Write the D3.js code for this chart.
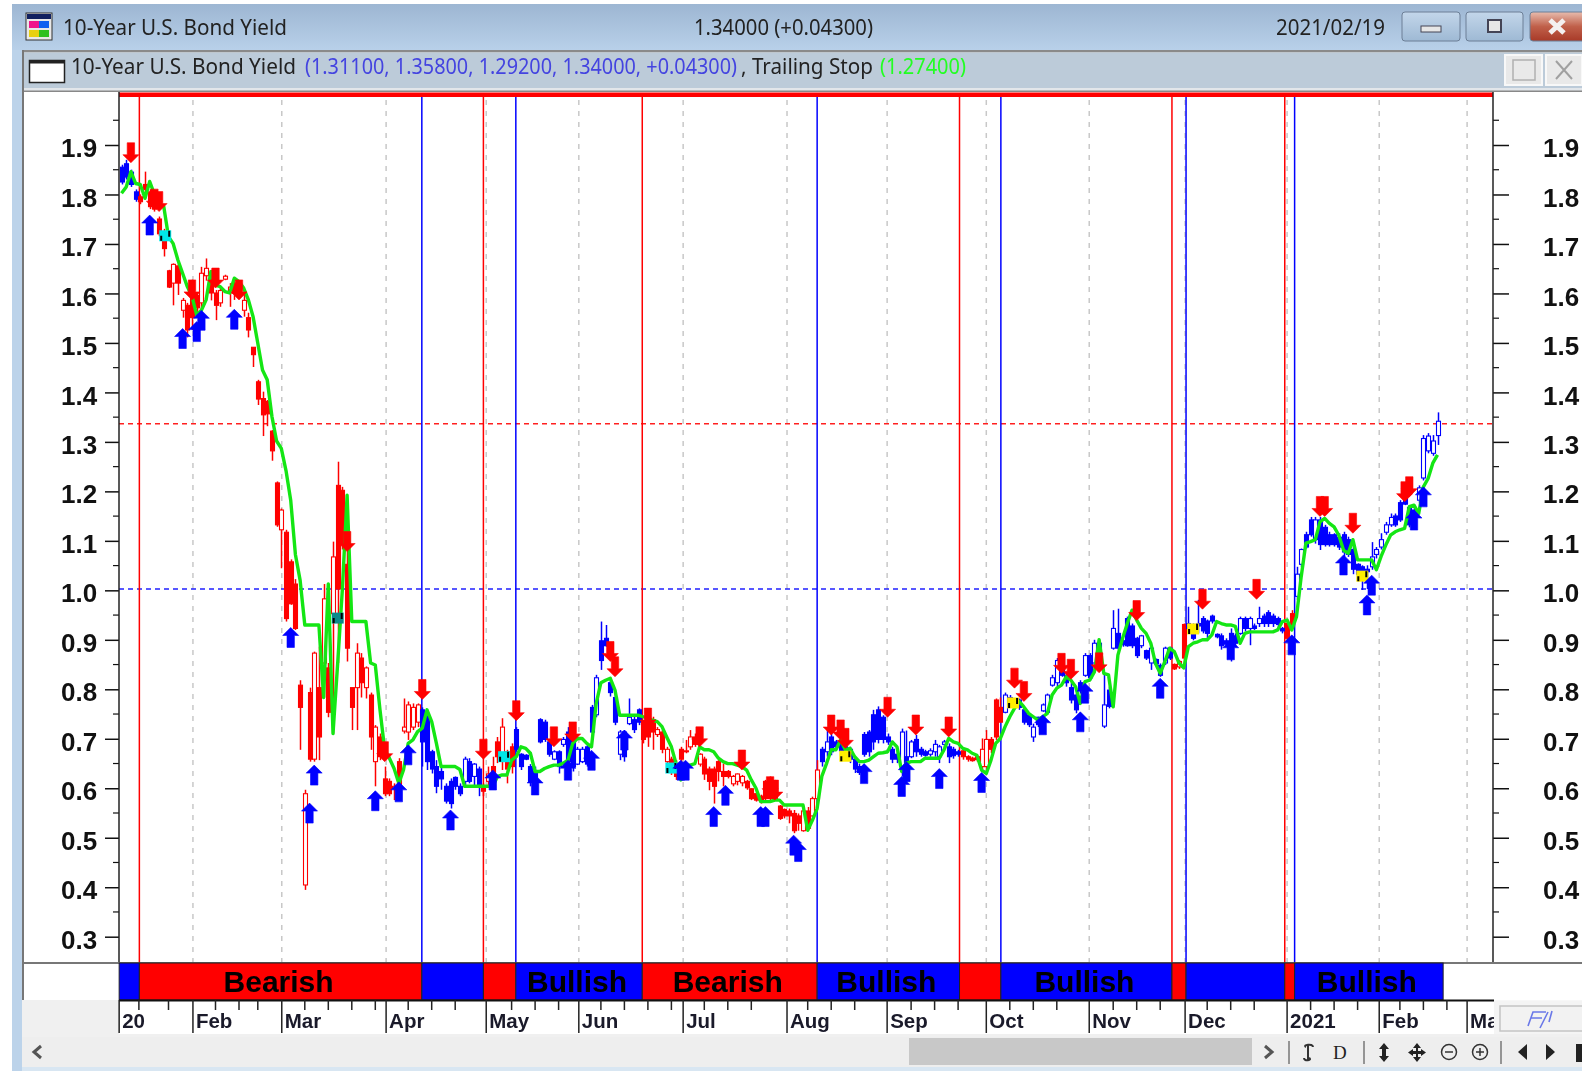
<!DOCTYPE html>
<html><head><meta charset="utf-8">
<script src="https://cdnjs.cloudflare.com/ajax/libs/d3/7.8.5/d3.min.js"></script>
<style>html,body{margin:0;padding:0;background:#fff;overflow:hidden}svg{display:block;filter:blur(.55px)}</style>
</head><body><svg id="c" width="1582" height="1071"></svg>
<script>
const highs=[1.86,1.87,1.85,1.81,1.80,1.846,1.81,1.805,1.755,1.73,
1.647,1.66,1.66,1.59,1.58,1.627,1.60,1.653,1.67,1.647,
1.606,1.613,1.637,1.62,1.623,1.623,1.60,1.56,1.49,1.424,
1.40,1.383,1.322,1.218,1.163,1.12,1.06,1.02,.815,.593,
.80,.873,.883,1.01,.85,1.096,1.258,1.207,1.113,.80,
.89,.87,.843,.79,.724,.707,.64,.616,.606,.657,
.778,.772,.768,.768,.76,.748,.674,.653,.637,.606,
.616,.62,.606,.66,.657,.647,.64,.606,.64,.66,
.70,.738,.674,.687,.72,.667,.665,.645,.64,.738,
.735,.694,.673,.673,.70,.72,.70,.68,.68,.687,
.765,.826,.934,.927,.815,.788,.714,.714,.778,.741,
.758,.734,.755,.741,.72,.714,.68,.66,.653,.68,
.694,.714,.707,.667,.66,.64,.64,.653,.646,.633,
.623,.626,.623,.613,.596,.586,.583,.613,.62,.613,
.562,.555,.555,.552,.545,.558,.558,.579,.653,.68,
.72,.708,.694,.69,.687,.68,.66,.646,.71,.714,
.755,.762,.744,.707,.68,.673,.717,.713,.694,.704,
.68,.674,.677,.694,.684,.694,.687,.68,.674,.674,
.663,.66,.663,.697,.714,.70,.778,.78,.79,.785,
.778,.778,.758,.748,.727,.741,.768,.788,.826,.86,
.866,.83,.81,.788,.815,.87,.87,.897,.897,.829,
.802,.957,.96,.897,.944,.93,.903,.907,.877,.884,
.859,.849,.883,.883,.849,.856,.93,.964,.93,.978,
.945,.938,.948,.91,.91,.90,.92,.91,.944,.944,
.944,.93,.964,.95,.957,.95,.944,.923,.937,.957,
1.045,1.082,1.116,1.146,1.146,1.146,1.13,1.116,1.113,1.113,
1.116,1.106,1.086,1.052,1.048,1.048,1.095,1.085,1.113,1.136,
1.153,1.153,1.18,1.187,1.17,1.166,1.21,1.312,1.316,1.312,1.358];
const lows=[1.82,1.83,1.815,1.785,1.78,1.80,1.77,1.765,1.715,1.674,
1.61,1.575,1.596,1.55,1.51,1.525,1.56,1.565,1.625,1.585,
1.545,1.572,1.626,1.572,1.586,1.59,1.552,1.51,1.45,1.373,
1.31,1.33,1.26,1.126,1.042,.934,.968,.917,.674,.39,
.65,.65,.653,.78,.74,.707,.85,1.08,.853,.714,
.714,.78,.778,.674,.60,.653,.58,.58,.572,.592,
.707,.694,.714,.72,.64,.633,.626,.586,.593,.565,
.555,.593,.58,.60,.606,.60,.58,.58,.60,.606,
.647,.633,.606,.626,.67,.633,.653,.60,.586,.687,
.69,.66,.653,.626,.68,.62,.63,.643,.647,.64,
.70,.74,.836,.883,.782,.724,.653,.65,.724,.708,
.724,.687,.68,.674,.70,.667,.647,.623,.613,.647,
.667,.674,.68,.64,.613,.592,.565,.61,.60,.616,
.60,.602,.60,.593,.572,.569,.565,.572,.572,.572,
.532,.535,.525,.505,.51,.508,.51,.538,.566,.64,
.66,.663,.674,.667,.654,.647,.627,.623,.66,.66,
.674,.687,.687,.684,.647,.647,.62,.62,.657,.66,
.66,.66,.66,.66,.647,.68,.647,.656,.66,.654,
.65,.65,.65,.633,.626,.667,.694,.73,.748,.768,
.758,.755,.725,.72,.69,.72,.751,.748,.802,.802,
.822,.802,.768,.748,.788,.822,.815,.842,.842,.718,
.758,.877,.877,.883,.883,.88,.86,.88,.856,.836,
.846,.822,.846,.856,.836,.838,.842,.91,.896,.91,
.91,.90,.93,.90,.877,.883,.853,.883,.907,.914,
.886,.917,.923,.923,.923,.923,.923,.91,.896,.923,
.978,1.045,1.082,1.106,1.092,1.079,1.086,1.086,1.086,1.079,
1.065,1.065,1.03,1.025,.998,1.0,1.039,1.062,1.08,1.11,
1.126,1.126,1.136,1.17,1.125,1.13,1.175,1.22,1.275,1.27,1.292];
const opens=[1.855,1.862,1.845,1.805,1.795,1.82,1.805,1.80,1.75,1.715,
1.645,1.62,1.655,1.565,1.575,1.62,1.595,1.58,1.635,1.64,
1.60,1.58,1.628,1.60,1.62,1.62,1.565,1.55,1.49,1.42,
1.386,1.38,1.32,1.215,1.12,1.115,1.055,1.01,.805,.40,
.79,.655,.80,.85,.84,.95,1.21,1.20,1.05,.80,
.80,.86,.80,.785,.65,.70,.615,.61,.595,.65,
.712,.71,.72,.73,.755,.74,.67,.64,.63,.60,
.61,.618,.60,.61,.65,.62,.635,.60,.61,.64,
.69,.66,.67,.68,.715,.665,.663,.64,.63,.735,
.73,.69,.655,.67,.685,.71,.695,.645,.65,.68,
.76,.745,.895,.90,.81,.78,.665,.71,.727,.735,
.755,.73,.73,.735,.705,.71,.65,.655,.645,.675,
.67,.68,.70,.645,.655,.635,.635,.65,.63,.63,
.605,.61,.607,.61,.595,.585,.58,.61,.615,.61,
.56,.553,.55,.545,.54,.51,.55,.54,.575,.675,
.67,.70,.69,.685,.68,.675,.655,.64,.705,.71,
.745,.755,.74,.70,.675,.665,.64,.66,.66,.695,
.675,.67,.665,.67,.66,.685,.68,.675,.67,.672,
.66,.657,.66,.64,.64,.695,.775,.76,.75,.78,
.775,.775,.755,.745,.70,.74,.753,.75,.805,.81,
.862,.825,.80,.785,.81,.825,.865,.85,.89,.722,
.795,.88,.91,.895,.94,.925,.90,.885,.875,.85,
.857,.845,.85,.88,.847,.842,.928,.93,.925,.93,
.94,.935,.945,.908,.905,.895,.91,.905,.91,.94,
.92,.925,.93,.945,.952,.945,.94,.92,.93,.95,
.985,1.05,1.11,1.14,1.10,1.14,1.125,1.11,1.11,1.105,
1.11,1.10,1.08,1.05,1.045,1.04,1.045,1.07,1.085,1.115,
1.13,1.148,1.175,1.185,1.165,1.16,1.18,1.225,1.28,1.275,1.311];
const closes=[1.825,1.835,1.82,1.79,1.785,1.81,1.775,1.77,1.72,1.69,
1.612,1.658,1.62,1.585,1.525,1.55,1.57,1.64,1.65,1.60,
1.575,1.605,1.634,1.612,1.60,1.595,1.585,1.525,1.475,1.385,
1.353,1.355,1.28,1.13,1.16,.94,.97,.92,.76,.585,
.655,.87,.70,.98,.75,1.065,1.0,1.09,.88,.76,
.87,.81,.84,.70,.72,.66,.585,.585,.60,.60,
.72,.765,.76,.765,.69,.65,.635,.60,.615,.57,
.565,.60,.585,.655,.61,.645,.60,.59,.625,.62,
.66,.72,.635,.64,.675,.64,.655,.61,.60,.69,
.695,.665,.67,.64,.695,.65,.64,.675,.675,.645,
.71,.82,.855,.885,.79,.73,.71,.66,.74,.715,
.73,.695,.70,.71,.715,.675,.675,.63,.62,.655,
.672,.70,.685,.665,.625,.61,.60,.63,.62,.62,
.62,.625,.62,.597,.575,.572,.57,.575,.575,.575,
.535,.54,.54,.51,.525,.55,.515,.575,.633,.65,
.69,.67,.68,.672,.66,.655,.635,.628,.665,.67,
.69,.695,.695,.69,.655,.655,.71,.64,.69,.67,
.665,.663,.672,.685,.68,.69,.66,.662,.665,.66,
.655,.652,.654,.675,.695,.675,.70,.73,.785,.77,
.762,.76,.73,.725,.72,.725,.765,.785,.82,.855,
.825,.81,.775,.755,.795,.865,.82,.89,.85,.765,
.762,.92,.88,.887,.885,.885,.865,.905,.86,.88,
.848,.825,.88,.86,.838,.853,.86,.92,.90,.925,
.915,.91,.935,.903,.885,.888,.875,.89,.94,.92,
.94,.92,.94,.93,.93,.93,.928,.915,.90,.925,
1.03,1.08,1.085,1.11,1.14,1.09,1.09,1.09,1.09,1.085,
1.075,1.07,1.04,1.03,1.03,1.035,1.065,1.08,1.10,1.13,
1.145,1.13,1.14,1.172,1.13,1.135,1.205,1.305,1.31,1.30,1.34];
const trailingStop=[1.802,1.815,1.846,1.822,1.82,1.792,1.826,1.80,1.78,1.775,
1.714,1.70,1.667,1.64,1.613,1.593,1.555,1.565,1.586,1.643,
1.616,1.613,1.603,1.60,1.63,1.623,1.61,1.586,1.552,1.498,
1.444,1.424,1.35,1.30,1.285,1.24,1.18,1.07,1.018,.927,
.927,.927,.927,.78,1.01,.707,.85,1.0,1.19,.934,
.934,.934,.934,.85,.846,.755,.674,.657,.636,.606,
.633,.687,.694,.711,.718,.755,.731,.687,.64,.64,
.64,.64,.634,.60,.60,.60,.60,.60,.60,.60,
.62,.623,.623,.653,.66,.68,.677,.667,.63,.63,
.636,.64,.643,.643,.647,.653,.687,.697,.697,.687,
.68,.768,.81,.815,.819,.795,.744,.744,.744,.744,
.744,.741,.738,.734,.731,.721,.70,.68,.646,.613,
.643,.643,.646,.68,.674,.674,.67,.657,.65,.646,
.646,.643,.64,.633,.613,.596,.569,.569,.569,.572,
.572,.562,.562,.562,.562,.562,.511,.531,.555,.62,
.646,.674,.674,.694,.674,.677,.66,.65,.65,.653,
.66,.667,.668,.67,.69,.68,.63,.647,.65,.65,
.65,.657,.657,.657,.657,.674,.697,.69,.687,.677,
.674,.667,.663,.633,.626,.653,.687,.697,.721,.741,
.758,.772,.761,.748,.741,.734,.741,.748,.785,.799,
.805,.822,.815,.802,.768,.812,.815,.832,.897,.829,
.826,.761,.866,.90,.93,.957,.937,.92,.91,.89,
.849,.829,.853,.88,.873,.85,.84,.883,.89,.893,
.897,.897,.907,.934,.93,.927,.927,.924,.89,.91,
.913,.913,.913,.913,.913,.913,.917,.934,.937,.917,
.944,1.025,1.093,1.096,1.10,1.136,1.143,1.133,1.126,1.109,
1.079,1.072,1.10,1.059,1.059,1.059,1.059,1.039,1.066,1.089,
1.109,1.116,1.12,1.123,1.167,1.17,1.153,1.207,1.224,1.255,1.272];
const sellArrows=[[2,1.864],[7,1.77],[8,1.765],[15,1.586],[20,1.61],[25,1.586],[48,1.076],[56,.65],[64,.776],[77,.655],[84,.733],[92,.68],[96,.69],[104,.853],[105,.822],[112,.718],[123,.68],[132,.633],[138,.579],[139,.572],[151,.704],[153,.694],[154,.677],[163,.74],[169,.704],[176,.70],[190,.799],[192,.772],[200,.829],[202,.817],[208,.83],[216,.936],[230,.959],[241.5,.979],[255,1.147],[256,1.147],[262,1.113],[273,1.177],[274,1.187]];
const buyArrows=[[6,1.758],[13,1.528],[16,1.542],[17,1.565],[24,1.567],[36,.922],[40,.566],[41,.643],[54,.591],[59,.609],[61,.684],[70,.552],[79,.633],[88,.623],[95,.653],[100,.673],[107,.714],[119,.653],[120,.653],[126,.559],[128.5,.602],[136,.559],[137,.559],[143,.501],[144,.488],[158,.646],[166,.62],[167,.65],[174,.636],[183,.628],[196,.745],[204,.751],[205,.809],[221,.819],[236,.897],[249,.907],[260,1.069],[265,.988],[266,1.028],[275,1.16],[277,1.207]];
const flagBoxes=[[9.3,1.716,"#00e8e8"],[46,.941,"#0a8a8a"],[81.4,.66,"#00e8e8"],[117,.637,"#00e8e8"],[154,.661,"#ffee00"],[189.7,.769,"#ffee00"],[228,.919,"#ffee00"],[264,1.026,"#ffee00"]];
const regimeStarts=[-.5,3.8,63.9,77,83.9,110.8,148.01,178.3,187.1,223.5,226.5,247.5,249.6];
const regimeEnd=281.2;
const regimeLabels=["","Bearish","","","Bullish","Bearish","Bullish","","Bullish","","","","Bullish"];
const monthTicks=[[-.5,"20"],[15.2,"Feb"],[34.1,"Mar"],[56.3,"Apr"],[77.6,"May"],[97.3,"Jun"],[119.5,"Jul"],[141.6,"Aug"],[162.9,"Sep"],[184,"Oct"],[205.9,"Nov"],[226.3,"Dec"],[248,"2021"],[267.6,"Feb"],[286.3,"Mar"]];
const weekTicks=[3.7,10,20,25,29,39,44,49,54,61,66,71,83,88,93,102,107,112,117,124,129,134,146,151,156,168,173,178,189,194,199,211,216,221,231,236,241,253,258,263,272,277,282];
const yTicks=[.3,.4,.5,.6,.7,.8,.9,1,1.1,1.2,1.3,1.4,1.5,1.6,1.7,1.8,1.9];
const yMinor=[.35,.45,.55,.65,.75,.85,.95,1.05,1.15,1.25,1.35,1.45,1.55,1.65,1.75,1.85,1.95];
const refLines=[[1.335,"#ff2020"],[1,"#2020ff"]];

const svg=d3.select("#c");
const x=d3.scaleLinear().domain([0,280]).range([121.5,1437.5]);
const y=d3.scaleLinear().domain([.3,1.9]).range([934.3,145]);
const yAxis=d3.scaleLinear().domain([.3,1.9]).range([936.7,145]);
const L=119,R=1493,BT=963,BB=1000;
const BLUE="#0000ff",RED="#ff0000";
const regimeAt=i=>{let k=0;regimeStarts.forEach((s,n)=>{if(i>=s)k=n});return k%2==0?BLUE:RED};
const defs=svg.append("defs");
function grad(id,stops){const g=defs.append("linearGradient").attr("id",id).attr("x1",0).attr("x2",0).attr("y1",0).attr("y2",1);stops.forEach(([o,c])=>g.append("stop").attr("offset",o).attr("stop-color",c))}
grad("tb",[[0,"#9db6d2"],[1,"#b9d1ea"]]);grad("cl",[[0,"#e8bcae"],[.5,"#c0604a"],[1,"#a83a28"]]);grad("bt",[[0,"#c3d6ea"],[1,"#9eb9d4"]]);

// window chrome
const chrome=svg.append("g");
chrome.append("rect").attr("x",12).attr("y",4).attr("width",1570).attr("height",47).attr("fill","url(#tb)");
chrome.append("rect").attr("x",12).attr("y",50).attr("width",10).attr("height",1021).attr("fill","#bcd3ea");
chrome.append("rect").attr("x",22).attr("y",50).attr("width",1560).attr("height",2.5).attr("fill","#8a8a8a");
chrome.append("rect").attr("x",22).attr("y",52.5).attr("width",1560).attr("height",36).attr("fill","#bccbd9");
chrome.append("rect").attr("x",22).attr("y",88).attr("width",1560).attr("height",3).attr("fill","#e2e6ea");
chrome.append("rect").attr("x",22).attr("y",91).attr("width",1560).attr("height",909).attr("fill","#fff");
chrome.append("rect").attr("x",22).attr("y",90.5).attr("width",1560).attr("height",1.5).attr("fill","#888");
chrome.append("rect").attr("x",22).attr("y",50).attr("width",2).attr("height",950).attr("fill","#777");
// title icon
const ic=chrome.append("g");
ic.append("rect").attr("x",26).attr("y",13).attr("width",26).attr("height",27).attr("fill","#e8e8e8").attr("stroke","#333");
ic.append("rect").attr("x",27).attr("y",14).attr("width",24).attr("height",5).attr("fill","#102060");
ic.append("rect").attr("x",29).attr("y",21).attr("width",10).attr("height",7).attr("fill","#f0148c");
ic.append("rect").attr("x",39).attr("y",21).attr("width",10).attr("height",7).attr("fill","#1060f0");
ic.append("rect").attr("x",29).attr("y",30).attr("width",10).attr("height",7).attr("fill","#e8d010");
ic.append("rect").attr("x",39).attr("y",30).attr("width",10).attr("height",7).attr("fill","#30c020");
chrome.append("rect").attr("x",29.5).attr("y",60.5).attr("width",35).attr("height",22).attr("fill","#fff").attr("stroke","#222").attr("stroke-width",1.5);
chrome.append("rect").attr("x",29.5).attr("y",60.5).attr("width",35).attr("height",3).attr("fill","#222");
const ttl=(t,xx,yy,w,c)=>svg.append("text").text(t).attr("x",xx).attr("y",yy).attr("textLength",w).attr("lengthAdjust","spacingAndGlyphs").attr("fill",c).attr("font-family","'Noto Sans'").attr("font-size",21);
ttl("10-Year U.S. Bond Yield",63,35,224,"#222");
ttl("1.34000 (+0.04300)",694,35,179,"#222");
ttl("2021/02/19",1276,35,109,"#222");
ttl("10-Year U.S. Bond Yield",71,74,225,"#222");
ttl("(1.31100, 1.35800, 1.29200, 1.34000, +0.04300)",305,74,432,"#4444e0");
ttl(", Trailing Stop",741,74,132,"#222");
ttl("(1.27400)",880,74,86,"#22ff22");
// window buttons
[[1402,58,"url(#bt)"],[1466,57,"url(#bt)"],[1530,56,"url(#cl)"]].forEach(([bx,w,f])=>chrome.append("rect").attr("x",bx).attr("y",12).attr("width",w).attr("height",29).attr("rx",3).attr("fill",f).attr("stroke","#6c7f96"));
chrome.append("rect").attr("x",1421).attr("y",26).attr("width",20).attr("height",6).attr("fill","#e6e6e6").attr("stroke","#445");
chrome.append("rect").attr("x",1488).attr("y",20).attr("width",13).attr("height",12).attr("fill","#e6e6e6").attr("stroke","#445").attr("stroke-width",2);
chrome.append("path").attr("d","M1550 20L1564 33M1564 20L1550 33").attr("stroke","#f4f0f0").attr("stroke-width",5);
[[1505,37],[1546,36]].forEach(([bx,w])=>chrome.append("rect").attr("x",bx).attr("y",55).attr("width",w).attr("height",30).attr("fill","#e9e9e9").attr("stroke","#f8f8f8").attr("stroke-width",2));
chrome.append("rect").attr("x",1513).attr("y",60).attr("width",22).attr("height",20).attr("fill","none").attr("stroke","#b0b0b0").attr("stroke-width",1.5);
chrome.append("path").attr("d","M1556 61L1572 79M1572 61L1556 79").attr("stroke","#a0a0a0").attr("stroke-width",2);

// month grid
const plot=svg.append("g");
plot.selectAll("line.g").data(monthTicks.slice(1)).join("line").attr("x1",d=>x(d[0])).attr("x2",d=>x(d[0])).attr("y1",100).attr("y2",BT).attr("stroke","#c8c8c8").attr("stroke-width",1.5).attr("stroke-dasharray","5,6");
// reference lines
plot.selectAll("line.r").data(refLines).join("line").attr("x1",L).attr("x2",R).attr("y1",d=>y(d[0])).attr("y2",d=>y(d[0])).attr("stroke",d=>d[1]).attr("stroke-width",1.5).attr("stroke-dasharray","5,4");
// regime verticals
plot.selectAll("line.v").data(regimeStarts.slice(1)).join("line").attr("x1",d=>x(d)).attr("x2",d=>x(d)).attr("y1",93).attr("y2",BT).attr("stroke",d=>regimeAt(d)).attr("stroke-width",1.5);
plot.append("rect").attr("x",L).attr("y",92.5).attr("width",R-L).attr("height",4.5).attr("fill",RED);

// axes
const axL=d3.axisLeft(yAxis).tickValues(yTicks).tickSize(14).tickFormat(d3.format(".1f"));
const gL=svg.append("g").attr("transform",`translate(${L},0)`).call(axL);
const axR=d3.axisRight(yAxis).tickValues(yTicks).tickSize(16).tickFormat(d3.format(".1f"));
const gR=svg.append("g").attr("transform",`translate(${R},0)`).call(axR);
[gL,gR].forEach(g=>{g.select(".domain").remove();g.selectAll("line").attr("stroke","#111").attr("stroke-width",1.5);
 g.selectAll("text").attr("font-family","'Liberation Sans'").attr("font-weight","bold").attr("font-size",26).attr("fill","#111").attr("dy",11.6)});
gL.selectAll("text").attr("text-anchor","start").attr("x",61-L);
gR.selectAll("text").attr("text-anchor","start").attr("x",1543-R);
svg.append("g").selectAll("line").data(yMinor).join("line").attr("x1",L-6).attr("x2",L).attr("y1",d=>yAxis(d)).attr("y2",d=>yAxis(d)).attr("stroke","#111").attr("stroke-width",1.2);
svg.append("g").selectAll("line").data(yMinor).join("line").attr("x1",R).attr("x2",R+6).attr("y1",d=>yAxis(d)).attr("y2",d=>yAxis(d)).attr("stroke","#111").attr("stroke-width",1.2);
svg.append("line").attr("x1",L).attr("x2",L).attr("y1",92).attr("y2",BT).attr("stroke","#222").attr("stroke-width",1.5);
svg.append("line").attr("x1",R).attr("x2",R).attr("y1",92).attr("y2",BT).attr("stroke","#222").attr("stroke-width",1.5);

// candles
const idx=d3.range(highs.length);
const c=svg.append("g");
c.selectAll("line").data(idx).join("line").attr("x1",i=>Math.round(x(i))+.5).attr("x2",i=>Math.round(x(i))+.5).attr("y1",i=>y(highs[i])).attr("y2",i=>y(lows[i])).attr("stroke",regimeAt).attr("stroke-width",1.5);
c.selectAll("rect").data(idx).join("rect").attr("x",i=>Math.round(x(i))-1.5).attr("width",4).attr("y",i=>y(Math.max(opens[i],closes[i]))).attr("height",i=>Math.max(1,Math.abs(y(opens[i])-y(closes[i]))))
 .attr("fill",i=>closes[i]>opens[i]?"#fff":regimeAt(i)).attr("stroke",regimeAt).attr("stroke-width",1.1);

// trailing stop
svg.append("path").datum(trailingStop).attr("fill","none").attr("stroke","#14e614").attr("stroke-width",3.4).attr("stroke-linejoin","round").attr("d",d3.line().x((d,i)=>x(i)).y(d=>y(d)));

// flag boxes
const fb=svg.append("g");
fb.selectAll("rect").data(flagBoxes).join("rect").attr("x",d=>x(d[0])-6).attr("y",d=>y(d[1])-5.5).attr("width",12).attr("height",11).attr("fill",d=>d[2]);
fb.selectAll("path").data(flagBoxes).join("path").attr("d",d=>`M${x(d[0])-5} ${y(d[1])+5}v-5h2v5zM${x(d[0])+3} ${y(d[1])-5}h2v6h-2z`).attr("fill","#000");

// arrows
const upPath=(px,py)=>{const p=d3.path();p.moveTo(px,py);p.lineTo(px+8,py+8);p.lineTo(px+3.7,py+8);p.lineTo(px+3.7,py+20);p.lineTo(px-3.7,py+20);p.lineTo(px-3.7,py+8);p.lineTo(px-8,py+8);p.closePath();return p.toString()};
const dnPath=(px,py)=>{const p=d3.path();p.moveTo(px,py);p.lineTo(px+8,py-8);p.lineTo(px+3.7,py-8);p.lineTo(px+3.7,py-20);p.lineTo(px-3.7,py-20);p.lineTo(px-3.7,py-8);p.lineTo(px-8,py-8);p.closePath();return p.toString()};
svg.append("g").selectAll("path").data(sellArrows).join("path").attr("d",d=>dnPath(x(d[0]),y(d[1]))).attr("fill",RED).attr("stroke",RED).attr("stroke-width",.6);
svg.append("g").selectAll("path").data(buyArrows).join("path").attr("d",d=>upPath(x(d[0]),y(d[1]))).attr("fill",BLUE).attr("stroke",BLUE).attr("stroke-width",.6);

// regime band
svg.append("rect").attr("x",22).attr("y",BT-1).attr("width",1560).attr("height",2).attr("fill","#777");
const segs=regimeStarts.map((s,n)=>({s,e:n+1<regimeStarts.length?regimeStarts[n+1]:regimeEnd,k:n,label:regimeLabels[n]}));
const band=svg.append("g");
band.selectAll("rect").data(segs).join("rect").attr("x",d=>x(d.s)).attr("width",d=>x(d.e)-x(d.s)).attr("y",BT).attr("height",BB-BT).attr("fill",d=>d.k%2==0?BLUE:RED).attr("stroke","#222").attr("stroke-width",1);
band.selectAll("text").data(segs.filter(d=>d.label)).join("text").text(d=>d.label).attr("x",d=>x((d.s+d.e)/2)-2).attr("y",992).attr("text-anchor","middle").attr("font-family","'Liberation Sans'").attr("font-weight","bold").attr("font-size",30).attr("fill","#000");

// time axis
svg.append("rect").attr("x",22).attr("y",1000).attr("width",97).attr("height",37).attr("fill","#f0f0f0");
svg.append("rect").attr("x",119).attr("y",1001).attr("width",R-L+1).attr("height",33).attr("fill","#fff");
svg.append("rect").attr("x",R+1).attr("y",1000).attr("width",90).attr("height",37).attr("fill","#f7f7f7");
svg.append("rect").attr("x",119).attr("y",1034).attr("width",R-L+90).attr("height",3).attr("fill","#f0f0f0");
svg.append("line").attr("x1",119).attr("x2",R+1).attr("y1",1000.5).attr("y2",1000.5).attr("stroke","#111").attr("stroke-width",2);
const t=svg.append("g");
t.selectAll("line.w").data(weekTicks.filter(d=>x(d)<R)).join("line").attr("x1",d=>x(d)).attr("x2",d=>x(d)).attr("y1",1000).attr("y2",1010).attr("stroke","#222").attr("stroke-width",1.5);
const m=svg.append("g").selectAll("g").data(monthTicks).join("g").attr("transform",d=>`translate(${Math.max(x(d[0]),119)},0)`);
m.append("line").attr("y1",1000).attr("y2",1033).attr("stroke","#222").attr("stroke-width",1.5);
m.append("text").text(d=>d[1]).attr("x",3).attr("y",1028).attr("font-family","'Liberation Sans'").attr("font-weight","bold").attr("font-size",20.5).attr("fill","#1a1a2a");
svg.append("rect").attr("x",R+1).attr("y",1001).attr("width",89).attr("height",33).attr("fill","#f4f4f4");
svg.append("rect").attr("x",1500).attr("y",1006).attr("width",90).attr("height",25).attr("fill","#f2f2f2").attr("stroke","#c4c4c4").attr("stroke-width",1.5);
svg.append("path").attr("d","M1528 1026L1533 1012H1546M1531 1018H1542M1548 1012L1540 1028M1552 1011L1549 1022").attr("fill","none").attr("stroke","#6a78e8").attr("stroke-width",1.6);

// scroll bar and toolbar
svg.append("rect").attr("x",22).attr("y",1037).attr("width",1560).attr("height",30).attr("fill","#eeeeee");
svg.append("rect").attr("x",22).attr("y",1067).attr("width",1560).attr("height",4).attr("fill","#d8e6f2");
svg.append("rect").attr("x",909).attr("y",1038).attr("width",343).attr("height",27).attr("fill","#c8c8c8");
const icon=svg.append("g").attr("fill","none").attr("stroke","#555").attr("stroke-width",3);
icon.append("path").attr("d","M41 1046L34 1052L41 1058");
icon.append("path").attr("d","M1265 1046L1272 1052L1265 1058");
const tb=svg.append("g").attr("fill","none").attr("stroke","#333").attr("stroke-width",1.5);
[1289,1364,1501].forEach(v=>tb.append("line").attr("x1",v).attr("x2",v).attr("y1",1041).attr("y2",1064).attr("stroke","#777"));
tb.append("path").attr("d","M1306 1047C1302 1045 1313 1043 1313 1047M1309 1058C1313 1060 1304 1062 1304 1058M1308 1044V1060").attr("stroke-width",2);
svg.append("text").text("D").attr("x",1333).attr("y",1059).attr("font-family","'Liberation Serif'").attr("font-size",19).attr("fill","#222");
svg.append("path").attr("d","M1384 1043l5 6h-3v7h3l-5 6l-5-6h3v-7h-3zM1417 1043l4 5h-3v3h3v-2l5 3.5l-5 3.5v-2h-3v3h3l-4 5l-4-5h3v-3h-3v2l-5-3.5l5-3.5v2h3v-3h-3zM1518 1052l9-8v16zM1555 1052l-9-8v16zM1576 1044h6v18h-6z").attr("fill","#222");
[1449,1480].forEach((v,n)=>{tb.append("circle").attr("cx",v).attr("cy",1052).attr("r",7.5);tb.append("path").attr("d",n?`M${v-4} 1052h8M${v} 1048v8`:`M${v-4} 1052h8`)});
</script></body></html>
